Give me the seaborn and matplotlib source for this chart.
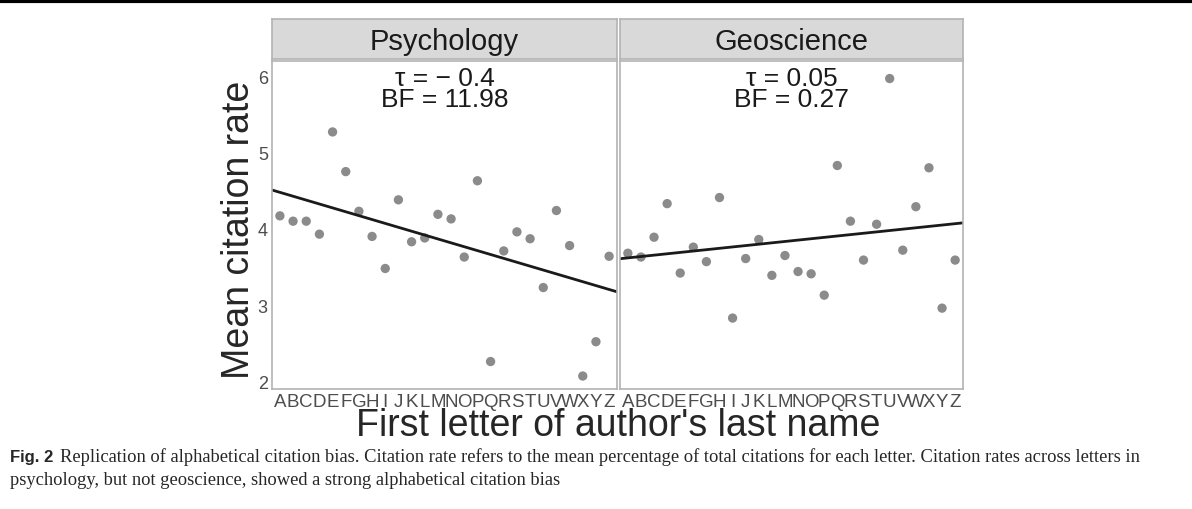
import matplotlib
matplotlib.use("Agg")
import matplotlib.pyplot as plt
import seaborn as sns
import numpy as np
import pandas as pd

letters = list("ABCDEFGHIJKLMNOPQRSTUVWXYZ")
psych = [4.17,4.10,4.10,3.93,5.27,4.75,4.23,3.90,3.48,4.38,3.83,3.88,4.19,4.13,3.63,4.63,2.26,3.71,3.96,3.87,3.23,4.24,3.78,2.07,2.52,3.64]
geo = [3.68,3.63,3.89,4.33,3.42,3.76,3.57,4.41,2.83,3.61,3.86,3.39,3.65,3.44,3.41,3.13,4.83,4.10,3.59,4.06,5.97,3.72,4.29,4.80,2.96,3.59]
panels = ["Psychology", "Geoscience"]
annots = ["\u03c4 = \u2212 0.4\nBF = 11.98", "\u03c4 = 0.05\nBF = 0.27"]

sns.set_style("white")
plt.rcParams['font.family'] = ['Liberation Sans', 'DejaVu Sans']

fig = plt.figure(figsize=(11.92, 5.10), dpi=100)
W, H = 1192, 510
fig.add_artist(plt.Line2D([0, 1], [1 - 2/H, 1 - 2/H], color='black', lw=3))

boxes = [(272, 617), (620, 963)]
top, bot = 62, 390
for i, (name, vals) in enumerate(zip(panels, [psych, geo])):
    x0, x1 = boxes[i]
    ax = fig.add_axes([x0/W, 1 - bot/H, (x1-x0)/W, (bot-top)/H])
    df = pd.DataFrame({"x": np.arange(26), "y": vals})
    sns.regplot(data=df, x="x", y="y", ax=ax, ci=None, truncate=False,
                scatter_kws=dict(color="#6e6e6e", s=45, edgecolor="none"),
                line_kws=dict(color="#1a1a1a", lw=2))
    ax.set_xlim(-0.6, 25.6)
    ax.set_ylim(1.9, 6.2)
    ax.set_xticks(range(26))
    ax.set_xticklabels(letters, fontsize=13.5, color="#4d4d4d")
    ax.set_yticks([2, 3, 4, 5, 6])
    if i == 0:
        ax.set_yticklabels(["2", "3", "4", "5", "6"], fontsize=13, color="#4d4d4d")
    else:
        ax.set_yticklabels([])
    ax.tick_params(axis='both', length=2, pad=1, colors="#4d4d4d")
    ax.set_xlabel(""); ax.set_ylabel("")
    for s in ax.spines.values():
        s.set_color("#b3b3b3"); s.set_linewidth(1.2)
    ax.text(0.5, 0.985, annots[i], transform=ax.transAxes, ha='center', va='top',
            fontsize=19, linespacing=0.85, color="#1a1a1a")
    sax = fig.add_axes([x0/W, 1 - 60/H, (x1-x0)/W, 40/H])
    sax.set_facecolor("#d9d9d9")
    sax.set_xticks([]); sax.set_yticks([])
    for s in sax.spines.values():
        s.set_color("#b3b3b3"); s.set_linewidth(1.2)
    sax.text(0.5, 0.45, name, ha='center', va='center', fontsize=21, color="#1a1a1a")

fig.text(239/W, 1 - 230/H, "Mean citation rate", rotation=90, ha='center', va='center', fontsize=27)
fig.text(618/W, 1 - 426/H, "First letter of author's last name", ha='center', va='center', fontsize=27)

fig.text(10/W, 1 - 462/H, "Fig. 2", fontsize=12, fontweight='bold', va='baseline')
fig.text(60/W, 1 - 462/H, "Replication of alphabetical citation bias. Citation rate refers to the mean percentage of total citations for each letter. Citation rates across letters in",
         fontsize=13.3, family=['Liberation Serif'], va='baseline')
fig.text(10/W, 1 - 485/H, "psychology, but not geoscience, showed a strong alphabetical citation bias",
         fontsize=13.3, family=['Liberation Serif'], va='baseline')

fig.savefig("out.png", dpi=100)
